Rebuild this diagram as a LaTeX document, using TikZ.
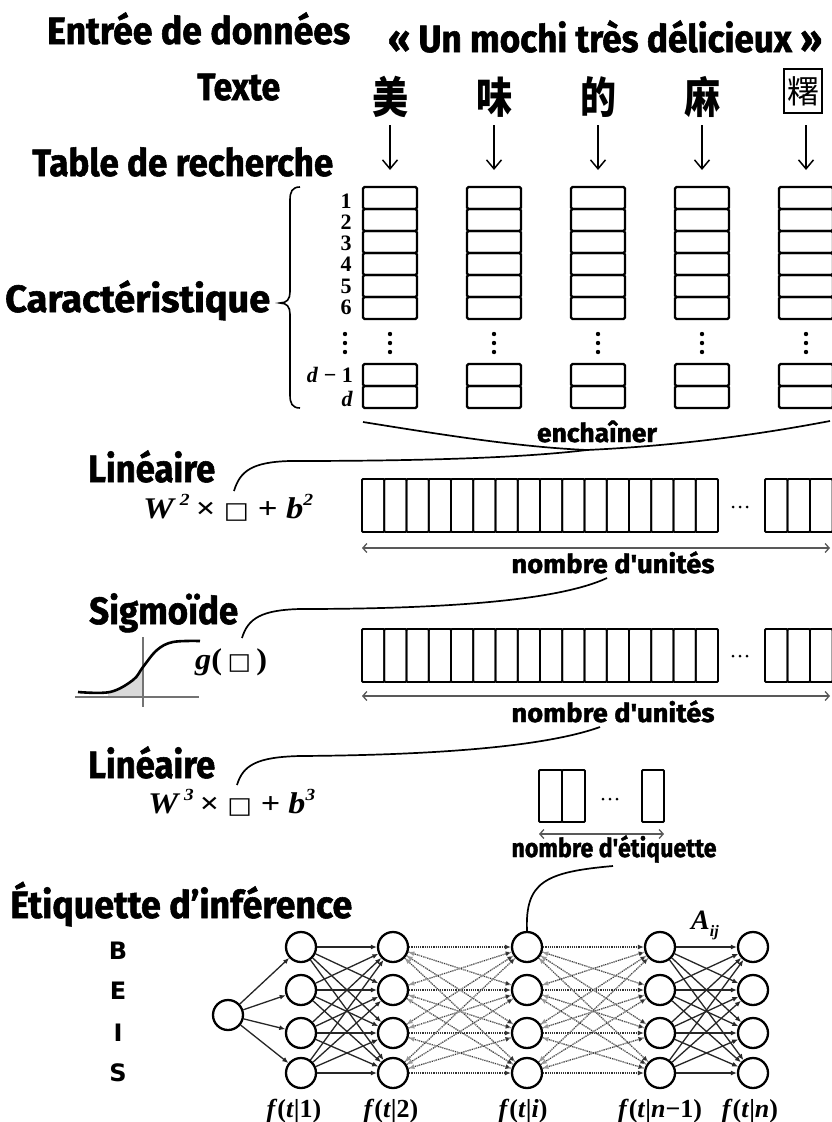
\documentclass[tikz,border=0pt]{standalone}
\usepackage{fontspec}
\usepackage{graphicx}
\usetikzlibrary{arrows.meta}
\newfontfamily\hd{Fira Sans}[BoldFeatures={FakeBold=1.5}]
\newfontfamily\cjk{Noto Sans CJK SC}
\newfontfamily\tms{Liberation Serif}
\newfontfamily\dvs{DejaVu Sans}
\newcommand{\fw}[2]{\resizebox{#1}{\height}{#2}}
\newcommand{\sqr}{{\dvs\bfseries\upshape\fontsize{23}{23}\selectfont\symbol{"25A1}}}
\newcommand{\sups}[1]{\raisebox{0.42em}{\fontsize{17}{17}\selectfont #1}}
\tikzset{
  hdr/.style={inner sep=0pt, anchor=base west, font=\hd\bfseries\fontsize{38}{38}\selectfont},
  lbl/.style={inner sep=0pt, anchor=base, font=\hd\bfseries\fontsize{26}{26}\selectfont},
  fml/.style={inner sep=0pt, anchor=base west, font=\tms\bfseries\itshape\fontsize{30}{30}\selectfont},
  cjkc/.style={inner sep=0pt, font=\cjk\bfseries\fontsize{40}{40}\selectfont},
  cell/.style={draw, line width=1.8pt, rounded corners=1pt},
  colbox/.style={draw, line width=2.2pt, rounded corners=1.5pt},
  dnarr/.style={line width=1.5pt, -{Straight Barb[length=9pt,width=15pt]}},
  conn/.style={line width=1.7pt},
  darr/.style={line width=1.3pt, black!65, {Straight Barb[length=4pt,width=9pt]}-{Straight Barb[length=4pt,width=9pt]}},
  neu/.style={circle, draw, line width=2.3pt, minimum size=30pt, inner sep=0pt, fill=white},
  sedge/.style={line width=1.3pt, black!85, -{Latex[length=6pt,width=5pt]}},
  dotedge/.style={line width=1.2pt, black!80, densely dotted, -{Latex[length=6pt,width=5pt]}},
  dashedge/.style={line width=1pt, black!40, dashed, -{Latex[length=6pt,width=5pt]}},
  fnl/.style={inner sep=0pt, anchor=base, font=\tms\bfseries\fontsize{26}{26}\selectfont},
  num/.style={inner sep=0pt, font=\tms\bfseries\fontsize{22}{22}\selectfont},
  bei/.style={inner sep=0pt, font=\dvs\bfseries\fontsize{24}{24}\selectfont},
}
\begin{document}
\begin{tikzpicture}[x=1pt,y=-1pt]
\useasboundingbox[fill=white] (0,0) rectangle (832,1122);

% ---------- headers ----------
\node[hdr] (entree) at (47,44) {\fw{303pt}{Entrée de données}};
\node[hdr] (phrase) at (388,52) {\fw{434pt}{« Un mochi très délicieux »}};
\node[hdr] (texte) at (197,100) {\fw{83pt}{Texte}};
\node[hdr] (table) at (32,176) {\fw{301pt}{Table de recherche}};
\node[hdr] (carac) at (5,312) {\fw{265pt}{Caractéristique}};
\node[hdr] (lin1) at (88,482) {\fw{127pt}{Linéaire}};
\node[hdr] (sigm) at (89,624) {\fw{149pt}{Sigmoïde}};
\node[hdr] (lin2) at (88,778) {\fw{127pt}{Linéaire}};
\node[hdr] (etiq) at (10,918) {\fw{342pt}{Étiquette d’inférence}};

% ---------- characters ----------
\node[cjkc] (ch0) at (390,97) {\scalebox{0.9}[1.08]{美}};
\node[cjkc] (ch1) at (494,97) {\scalebox{0.9}[1.08]{味}};
\node[cjkc] (ch2) at (598,97) {\scalebox{0.9}[1.08]{的}};
\node[cjkc] (ch3) at (702,97) {\scalebox{0.9}[1.08]{麻}};
\node[draw, line width=1.3pt, minimum width=38pt, minimum height=44pt, inner sep=0pt,
      font=\cjk\fontsize{32}{32}\selectfont] (ch4) at (803,91) {糬};

\foreach \k in {0,...,4}{
  \coordinate (at\k) at ({390+104*\k},125);
  \coordinate (ab\k) at ({390+104*\k},170);
  \draw[dnarr] (at\k) -- (ab\k);
}

% ---------- lookup columns ----------
\foreach \k in {0,...,4}{
  \pgfmathsetmacro{\xl}{363+104*\k}
  \foreach \r in {0,...,5} \draw[colbox] (\xl,{187+22*\r}) rectangle ++(54,22);
  \draw[colbox] (\xl,364) rectangle ++(54,22);
  \draw[colbox] (\xl,386) rectangle ++(54,22);
  \foreach \d in {334,343,352} \fill ({\xl+27},\d) circle (2.2);
}
\node[num] (n1) at (346,201) {1};
\node[num] (n2) at (346,222) {2};
\node[num] (n3) at (346,243) {3};
\node[num] (n4) at (346,264) {4};
\node[num] (n5) at (346,286) {5};
\node[num] (n6) at (346,307) {6};
\foreach \d in {334,343,352} \fill (345,\d) circle (2.2);
\node[num, anchor=east] (ndm) at (353,375) {\textit{d} − 1};
\node[num, anchor=east] (nd) at (353,399) {\textit{d}};
\draw[line width=1.6pt] (300,187) .. controls (292,187) and (290,192) .. (290,200)
   -- (290,292) .. controls (290,299) and (287,303) .. (280,303)
   .. controls (287,303) and (290,307) .. (290,314)
   -- (290,395) .. controls (290,403) and (292,408) .. (300,408);

% ---------- concat ----------
\coordinate (cL) at (363,422);
\coordinate (cR) at (830,421);
\coordinate (cM) at (587,450);
\draw[conn] (cL) .. controls (450,436) and (520,447) .. (cM);
\draw[conn] (cR) .. controls (730,440) and (650,447) .. (cM);
\node[lbl] (ench) at (597,442) {\fw{120pt}{enchaîner}};

% ---------- linear 1 ----------
\node[fml] (f1) at (143,518) {\fw{170pt}{\textit{W}\,\sups{2}\,× \sqr{} + \textit{b}\sups{2}}};
\coordinate (sq1) at (234,491);
\draw[conn] (sq1) .. controls (240,471) and (252,462) .. (290,461) .. controls (420,461) and (520,458) .. (cM);
\foreach \i in {0,...,15} \draw[cell] ({362+\i*22.25},479) rectangle ++(22.25,53);
\foreach \i in {0,1,2} \draw[cell] ({765+\i*22.5},479) rectangle ++(22.5,53);
\foreach \d in {733,740,747} \fill (\d,507) circle (1.5);
\coordinate (l1a) at (362,548);
\coordinate (l1b) at (830,548);
\draw[darr] (l1a) -- (l1b);
\node[lbl] (nu1) at (613,573) {\fw{203pt}{nombre d'unités}};

% ---------- sigmoid ----------
\fill[black!15] (108,692) -- plot[smooth] coordinates {(110,692) (133,680) (143,667)} -- (143,697) -- (108,697) -- cycle;
\draw[black!55, line width=1.2pt] (75,697) -- (199,697);
\draw[black!55, line width=1.2pt] (143,637) -- (143,707);
\draw[line width=2.6pt] plot[smooth, tension=0.6] coordinates {(78,692) (110,692) (133,680) (143,667) (157,650) (173,642) (200,641)};
\node[fml] (g) at (195,669) {\fw{72pt}{\textit{g}\textup{(}\,\sqr\,\textup{)}}};
\coordinate (sq2) at (242,638);
\coordinate (u1) at (607,578);
\draw[conn] (sq2) .. controls (248,618) and (262,610) .. (300,609) .. controls (450,609) and (560,600) .. (u1);
\foreach \i in {0,...,15} \draw[cell] ({362+\i*22.25},629) rectangle ++(22.25,53);
\foreach \i in {0,1,2} \draw[cell] ({765+\i*22.5},629) rectangle ++(22.5,53);
\foreach \d in {733,740,747} \fill (\d,656) circle (1.5);
\coordinate (l2a) at (362,696);
\coordinate (l2b) at (830,696);
\draw[darr] (l2a) -- (l2b);
\node[lbl] (nu2) at (613,722) {\fw{203pt}{nombre d'unités}};

% ---------- linear 2 ----------
\node[fml] (f2) at (148,813) {\fw{167pt}{\textit{W}\,\sups{3}\,× \sqr{} + \textit{b}\sups{3}}};
\coordinate (sq3) at (237,785);
\coordinate (u2) at (600,727);
\draw[conn] (sq3) .. controls (243,765) and (257,757) .. (300,756) .. controls (450,755) and (550,745) .. (u2);
\draw[cell] (539,770) rectangle ++(23,52);
\draw[cell] (562,770) rectangle ++(23,52);
\draw[cell] (642,770) rectangle ++(22,52);
\foreach \d in {603,610,617} \fill (\d,799) circle (1.5);
\coordinate (l3a) at (539,834);
\coordinate (l3b) at (664,834);
\draw[darr] (l3a) -- (l3b);
\node[lbl] (ne) at (614,857) {\fw{205pt}{nombre d'étiquette}};

% ---------- network ----------
\node[neu] (in) at (228,1015) {};
\foreach \c/\x in {1/301,2/393,3/527,4/660,5/753}
  \foreach \r/\y in {1/947,2/990,3/1033,4/1073}
    \node[neu] (n\c\r) at (\x,\y) {};
\foreach \a in {1,...,4} \draw[sedge] (in) -- (n1\a);
\foreach \a in {1,...,4} \foreach \b in {1,...,4} {
  \draw[sedge] (n1\a) -- (n2\b);
  \draw[dotedge] (n2\a) -- (n3\b);
  \draw[dotedge] (n3\a) -- (n4\b);
  \draw[sedge] (n4\a) -- (n5\b);
}
\foreach \a/\b in {1/2,1/3,1/4,2/1,2/3,2/4,3/1,3/2,3/4,4/1,4/2,4/3} {
  \draw[dashedge] (n3\a) -- (n2\b);
  \draw[dashedge] (n4\a) -- (n3\b);
}
\coordinate (e1) at (613,866);
\draw[conn] (e1) .. controls (545,872) and (525,882) .. (n31.north);

\node[bei] (lb) at (118,951) {B};
\node[bei] (le) at (118,991) {E};
\node[bei] (li) at (118,1033) {I};
\node[bei] (ls) at (118,1073) {S};

\node[fnl] (fl1) at (294,1117) {\textit{f}(\textit{t}|1)};
\node[fnl] (fl2) at (391,1117) {\textit{f}(\textit{t}|2)};
\node[fnl] (fli) at (523,1117) {\textit{f}(\textit{t}|\textit{i})};
\node[fnl] (fln1) at (660,1117) {\textit{f}(\textit{t}|\textit{n}−1)};
\node[fnl] (fln) at (750,1117) {\textit{f}(\textit{t}|\textit{n})};
\node[fnl, font=\tms\bfseries\fontsize{28}{28}\selectfont] (aij) at (705,929) {\textit{A}\raisebox{-0.25em}{\fontsize{16}{16}\selectfont\textit{ij}}};
\end{tikzpicture}
\end{document}
